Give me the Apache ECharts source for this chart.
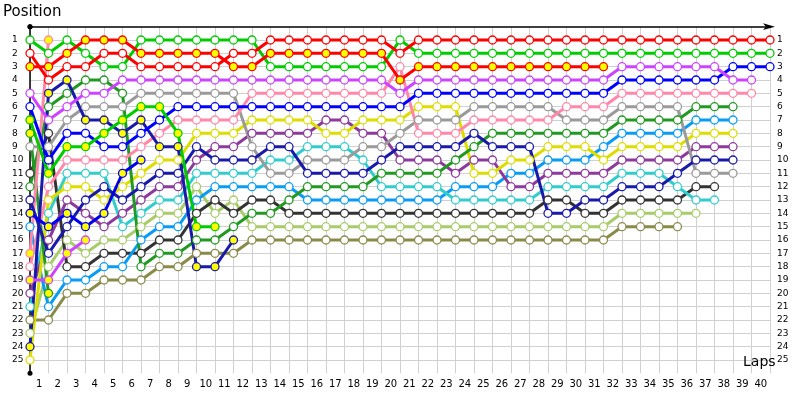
<!DOCTYPE html>
<html><head><meta charset="utf-8">
<script src="https://cdn.jsdelivr.net/npm/echarts@6/dist/echarts.min.js"></script>
<style>html,body{margin:0;padding:0;background:#fff}#c{width:800px;height:400px}</style>
</head><body><div id="c"></div>
<script>
// Position of each driver at the end of each lap (index 0 = grid), lines end when the driver stops
const lapLabels = Array.from({length: 40}, (_, i) => String(i + 1));
const posLabels = Array.from({length: 25}, (_, i) => i + 1);

const redW = [2,4,3,3,2,2,3,3,3,3,3,2,2,1,1,1,1,1,1,1,2,1,1,1,1,1,1,1,1,1,1,1,1,1,1,1,1,1,1,1,1];
const redY = [3,3,2,1,1,1,2,2,2,2,2,3,3,2,2,2,2,2,2,2,4,3,3,3,3,3,3,3,3,3,3,3];
const greenW = [1,2,1,2,3,3,1,1,1,1,1,1,1,3,3,3,3,3,3,3,1,2,2,2,2,2,2,2,2,2,2,2,2,2,2,2,2,2,2,2,2];
const greenY = [7,11,9,9,8,7,6,6,8,15,15];
const magentaW = [5,7,6,5,5,4,4,4,4,4,4,4,4,4,4,4,4,4,4,4,5,4,4,4,4,4,4,4,4,4,4,4,3,3,3,3,3,3,4,4];
const magentaY = [19,19,17,16];
const blueW = [6,10,8,8,9,9,8,7,6,6,6,6,6,6,6,6,6,6,6,6,6,5,5,5,5,5,5,5,5,5,5,5,4,4,4,4,4,4,3,3,3];
const blueY = [14,15,14,15,14,11,10];
const navyW = [13,17,15,13,12,13,12,11,11,9,10,10,10,9,9,11,11,11,11,10,9,9,9,9,8,9,9,9,14,14,13,13,12,12,12,11,10,10,10];
const navyY = [24,5,4,7,7,8,7,9,9,18,18,16];
const pinkW = [18,12,10,10,10,10,9,8,7,7,7,7,5,5,5,5,5,5,5,5,3,8,8,8,7,7,7,7,7,6,6,6,5,5,5,5,5,5,5,5];
const pinkY = [17,1];
const dkgreenW = [12,6,5,4,4,5,18,17,17,16,16,15,14,14,13,12,12,12,12,11,11,11,11,10,9,8,8,8,8,8,8,8,7,7,7,7,6,6,6];
const dkgreenY = [8,20];
const grayW = [9,9,7,6,6,6,5,5,5,5,5,5,9,11,11,10,10,10,9,9,8,7,7,7,6,6,6,6,6,7,7,7,6,6,6,6,11,11,11];
const yellowW = [25,13,12,12,13,12,11,10,10,8,8,8,7,7,7,7,8,8,7,7,7,6,6,6,11,11,10,10,9,9,9,10,9,9,9,9,8,8,8];
const purpleW = [20,16,13,14,15,14,13,12,12,10,9,9,8,8,8,8,7,7,8,8,10,10,10,11,10,10,12,12,11,11,11,11,10,10,10,10,9,9,9];
const cyanW = [21,14,11,11,11,15,14,13,13,11,11,11,11,10,10,9,9,9,10,12,12,12,12,13,13,13,13,13,12,12,12,12,11,11,11,12,13,13];
const skyW = [15,21,19,19,18,18,16,15,15,13,12,12,12,12,12,13,13,13,13,13,13,13,13,12,12,12,11,11,10,10,10,9,8,8,8,8,7,7,7];
const blackW = [11,8,18,18,17,17,17,16,16,14,13,14,13,13,14,14,14,14,14,14,14,14,14,14,14,14,14,14,13,13,14,14,13,13,13,13,12,12];
const lightgreenW = [23,18,16,17,16,16,15,14,14,12,14,13,15,15,15,15,15,15,15,15,15,15,15,15,15,15,15,15,15,15,15,15,14,14,14,14,14];
const oliveW = [22,22,20,20,19,19,19,18,18,17,17,17,16,16,16,16,16,16,16,16,16,16,16,16,16,16,16,16,16,16,16,16,15,15,15,15];

const drivers = [
  {d: oliveW, c: '#8a8a4a', f: '#fff'},
  {d: lightgreenW, c: '#a8cc6a', f: '#fff'},
  {d: blackW, c: '#333333', f: '#fff'},
  {d: skyW, c: '#0a9cf5', f: '#fff'},
  {d: cyanW, c: '#33cccc', f: '#fff'},
  {d: purpleW, c: '#8c3a9c', f: '#fff'},
  {d: yellowW, c: '#dddd00', f: '#fff'},
  {d: grayW, c: '#9a9a9a', f: '#fff'},
  {d: dkgreenY, c: '#229922', f: '#ffff00'},
  {d: dkgreenW, c: '#229922', f: '#fff'},
  {d: pinkY, c: '#ff88aa', f: '#ffff00'},
  {d: pinkW, c: '#ff88aa', f: '#fff'},
  {d: navyY, c: '#1a1aaa', f: '#ffff00'},
  {d: navyW, c: '#1a1aaa', f: '#fff'},
  {d: blueY, c: '#0000ee', f: '#ffff00'},
  {d: blueW, c: '#0000ff', f: '#fff'},
  {d: magentaY, c: '#cc44ff', f: '#ffff00'},
  {d: magentaW, c: '#cc44ff', f: '#fff'},
  {d: greenY, c: '#00cc00', f: '#ffff00'},
  {d: greenW, c: '#00cc00', f: '#fff'},
  {d: redY, c: '#ff0000', f: '#ffff00'},
  {d: redW, c: '#ff0000', f: '#fff'}
];

const chart = echarts.init(document.getElementById('c'));
const series = [];
drivers.forEach(dr => {
  series.push({type: 'line', xAxisIndex: 0, yAxisIndex: 0, data: dr.d.map((p, i) => [i, p]),
    showSymbol: false, lineStyle: {color: dr.c, width: 3}, z: 2, silent: true});
});
drivers.forEach(dr => {
  series.push({type: 'scatter', xAxisIndex: 0, yAxisIndex: 0, data: dr.d.map((p, i) => [i, p]),
    symbol: 'circle', symbolSize: 8,
    itemStyle: {color: dr.f, borderColor: dr.c, borderWidth: 1.3, opacity: 1}, z: 3, silent: true});
});

const fontFam = 'DejaVu Sans';
chart.setOption({
  animation: false,
  title: [
    {text: 'Position', left: 3, top: 5, padding: 0, textStyle: {fontFamily: fontFam, fontSize: 15, fontWeight: 'normal', color: '#000'}},
    {text: 'Laps', left: 743, top: 355, padding: 0, textStyle: {fontFamily: fontFam, fontSize: 14, fontWeight: 'normal', color: '#000'}}
  ],
  grid: {left: 30, right: 30, top: 26.667, height: 346.667, containLabel: false},
  xAxis: [
    {type: 'value', min: 0, max: 40, interval: 1, position: 'bottom',
      axisLine: {show: true, lineStyle: {color: '#000', width: 1.5}, symbol: ['circle', 'arrow'], symbolSize: [5, 12], symbolOffset: [0, 5]},
      axisTick: {show: false}, axisLabel: {show: false},
      splitLine: {show: true, lineStyle: {color: '#d0d0d0', width: 1}}},
    {type: 'category', data: lapLabels, position: 'bottom', boundaryGap: true,
      axisLine: {show: false}, axisTick: {show: false}, splitLine: {show: false},
      axisLabel: {show: true, interval: 0, margin: 6, fontFamily: fontFam, fontSize: 10, color: '#000'}}
  ],
  yAxis: [
    {type: 'value', inverse: true, min: 0, max: 26, interval: 1, position: 'left',
      axisLine: {show: true, lineStyle: {color: '#000', width: 1.5}, symbol: ['circle', 'circle'], symbolSize: [5, 5]},
      axisTick: {show: false},
      axisLabel: {show: true, align: 'left', margin: 18, fontFamily: fontFam, fontSize: 9, color: '#000',
        formatter: v => posLabels.includes(v) ? String(v) : ''},
      splitLine: {show: true, showMinLine: false, showMaxLine: false, lineStyle: {color: '#d0d0d0', width: 1}}},
    {type: 'value', inverse: true, min: 0, max: 26, interval: 1, position: 'right',
      axisLine: {show: false}, axisTick: {show: false}, splitLine: {show: false},
      axisLabel: {show: true, align: 'left', margin: 7, fontFamily: fontFam, fontSize: 9, color: '#000',
        formatter: v => posLabels.includes(v) ? String(v) : ''}}
  ],
  series: series
});
</script></body></html>
